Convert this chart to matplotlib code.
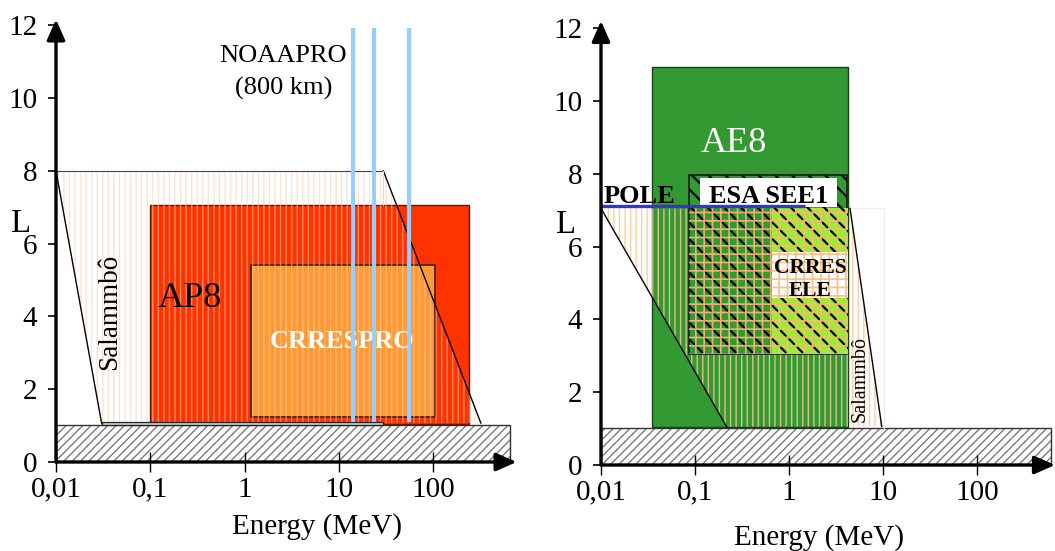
import matplotlib as mpl
mpl.use('Agg')
import numpy as np
import matplotlib.pyplot as plt
from matplotlib.patches import Polygon

plt.rcParams['font.family'] = ['Liberation Serif', 'DejaVu Serif']

# ---------------- data ----------------
tick_E = [0.01, 0.1, 1, 10, 100]
tick_E_labels = ['0,01', '0,1', '1', '10', '100']
tick_L = [0, 2, 4, 6, 8, 10, 12]

# left panel : protons
floor_L = [0.0, 1.02]
floor_E_left = [0.01, 650]
ap8_E = [0.1, 240]
ap8_L = [1.05, 7.05]
crrespro_E = [1.17, 104]
crrespro_L = [1.25, 5.4]
noaapro_E = [14, 23.6, 55.4]
noaapro_L = [1.11, 11.92]
salammbo_p_E = [0.01, 29.6, 320, 0.0305]
salammbo_p_L = [8.0, 8.0, 1.07, 1.06]
salammbo_p_base_L = [1.02, 1.1]

# right panel : electrons
floor_E_right = [0.01, 620]
ae8_E = [0.0346, 4.2]
ae8_L = [1.05, 10.94]
esa_see1_E = [0.0863, 4.15]
esa_see1_L = [3.04, 7.97]
crres_ele_E = [0.0863, 4.2]
crres_ele_L = [3.04, 7.05]
crres_ele_hi_E = [0.655, 4.2]
salammbo_e_E = [0.01, 4.46, 9.7, 0.217]
salammbo_e_L = [7.05, 7.05, 1.06, 1.05]
pole_E = [0.01, 1.48]
pole_L = 7.12

# ---------------- helpers ----------------
W, H = 1055, 551
PXL = 36.4
fig = plt.figure(figsize=(W / 100, H / 100), dpi=100)
fig.patch.set_facecolor('white')


class HatchPolygon(Polygon):
    def __init__(self, xy, hlw=1.0, **kw):
        with mpl.rc_context({'hatch.linewidth': hlw}):
            super().__init__(xy, **kw)
        self._hlw = hlw
        if hasattr(self, 'set_hatch_linewidth'):
            self.set_hatch_linewidth(hlw)

    def draw(self, renderer):
        with mpl.rc_context({'hatch.linewidth': self._hlw}):
            super().draw(renderer)


def corners(E, L):
    return [(E[0], L[0]), (E[1], L[0]), (E[1], L[1]), (E[0], L[1])]


def rect(ax, E, L, fc, ec='none', lw=0.0, z=1.0):
    p = Polygon(corners(E, L), closed=True, facecolor=fc, edgecolor=ec,
                linewidth=lw, zorder=z)
    ax.add_patch(p)
    return p


def hatch(ax, xy, pattern, color, hlw, fc='none', z=1.0):
    p = HatchPolygon(xy, hlw=hlw, closed=True, facecolor=fc, edgecolor=color,
                     linewidth=0, hatch=pattern, zorder=z)
    ax.add_patch(p)
    return p


def outline(ax, xy, color='black', lw=1.0, z=2.0, closed=True):
    p = Polygon(xy, closed=closed, facecolor='none', edgecolor=color,
                linewidth=lw, zorder=z)
    ax.add_patch(p)


def make_axes(x0, y0, decades, Lmax, pxdec, x_end, y_end):
    ax = fig.add_axes([x0 / W, (H - y0) / H, decades * pxdec / W, Lmax * PXL / H])
    ax.set_xscale('log')
    ax.set_xlim(0.01, 0.01 * 10 ** decades)
    ax.set_ylim(0, Lmax)
    ax.set_facecolor('none')
    for s in ax.spines.values():
        s.set_visible(False)
    ax.set_xticks(tick_E)
    ax.set_xticklabels(tick_E_labels)
    ax.minorticks_off()
    ax.set_yticks(tick_L)
    ax.tick_params(axis='x', direction='inout', length=15, width=1.0, pad=3,
                   labelsize=21)
    ax.tick_params(axis='y', direction='out', length=6, width=1.2, pad=7.5,
                   labelsize=21)
    arrow = dict(arrowstyle='-|>,head_length=0.5,head_width=0.22', lw=2.4,
                 color='black', shrinkA=0, shrinkB=0, mutation_scale=25)
    ax.annotate('', xy=(x_end, 0), xytext=(0.01, 0), arrowprops=arrow,
                annotation_clip=False, zorder=5)
    ax.annotate('', xy=(0.01, y_end), xytext=(0.01, 0), arrowprops=arrow,
                annotation_clip=False, zorder=5)
    return ax


# ---------------- left panel ----------------
axL = make_axes(56, 462, 4.95, 12.6, 94.3, 767, 12.16)

hatch(axL, corners(floor_E_left, floor_L), '////', '#7a7a7a', 1.0, fc='white', z=1.0)
outline(axL, corners(floor_E_left, floor_L), color='#333333', lw=1.0, z=1.05)

rect(axL, ap8_E, ap8_L, '#FF3300', ec='#5a1a00', lw=1.0, z=1.1)
rect(axL, crrespro_E, crrespro_L, '#FF9933', ec='#4a2400', lw=1.3, z=1.2)

sal_p = list(zip(salammbo_p_E, salammbo_p_L))
hatch(axL, sal_p, '|||', (1.0, 0.80, 0.68, 0.55), 1.0, z=1.3)
axL.plot([salammbo_p_E[0], salammbo_p_E[3]], [salammbo_p_L[0], salammbo_p_L[3]],
         color='black', lw=1.0, zorder=1.4)
axL.plot([salammbo_p_E[1], salammbo_p_E[2]], [salammbo_p_L[1], salammbo_p_L[2]],
         color='black', lw=1.0, zorder=1.4)
axL.plot([salammbo_p_E[0], salammbo_p_E[1]], [salammbo_p_L[0], salammbo_p_L[1]],
         color='#444444', lw=0.8, zorder=1.4)
axL.plot([salammbo_p_E[1], salammbo_p_E[1]], [salammbo_p_L[1], ap8_L[1]],
         color='#dddddd', lw=0.8, zorder=1.4)
rect(axL, [salammbo_p_E[3], salammbo_p_E[1]], salammbo_p_base_L, '#c8c8c8',
     ec='#222222', lw=0.9, z=1.45)

axL.text(10.7, 3.12, 'CRRESPRO', color='white', fontsize=19, fontweight='bold',
         ha='center', va='baseline', zorder=3)
for e in noaapro_E:
    axL.plot([e, e], noaapro_L, color='#99CCFF', lw=3.0, zorder=3.5,
             solid_capstyle='butt')
axL.text(2.57, 11.0, 'NOAAPRO', fontsize=19, ha='center', va='baseline', zorder=4)
axL.text(2.57, 10.09, '(800 km)', fontsize=19, ha='center', va='baseline', zorder=4)
axL.text(0.264, 4.27, 'AP8', fontsize=26, ha='center', va='baseline', zorder=4)
axL.text(0.0374, 4.13, 'Salammbô', fontsize=19.5, rotation=90, ha='center',
         va='center', zorder=4)
axL.text(10 ** (-2.37), 6.33, 'L', fontsize=23.5, ha='center', va='baseline',
         clip_on=False)
axL.text(5.8, -1.76, 'Energy (MeV)', fontsize=21, ha='center', va='center',
         clip_on=False)

# ---------------- right panel ----------------
axR = make_axes(601, 465, 4.85, 12.6, 94.0, 10 ** 2.83, 12.2)

hatch(axR, corners(floor_E_right, floor_L), '////', '#7a7a7a', 1.0, fc='white', z=1.0)
outline(axR, corners(floor_E_right, floor_L), color='#333333', lw=1.0, z=1.05)

rect(axR, ae8_E, ae8_L, '#339933', ec='#1d3d1d', lw=1.0, z=1.1)

sal_e = list(zip(salammbo_e_E, salammbo_e_L))
hatch(axR, sal_e, '|||', (1.0, 0.78, 0.56, 0.85), 1.0, z=1.2)
axR.plot([salammbo_e_E[0], salammbo_e_E[3]], [salammbo_e_L[0], salammbo_e_L[3]],
         color='black', lw=1.0, zorder=1.3)
axR.plot([salammbo_e_E[1], salammbo_e_E[2]], [salammbo_e_L[1], salammbo_e_L[2]],
         color='black', lw=1.0, zorder=1.3)
axR.plot([salammbo_e_E[1], 10.2, 10.2], [salammbo_e_L[1], salammbo_e_L[1], floor_L[1]],
         color='#ececec', lw=0.8, zorder=1.15)

hatch(axR, corners(esa_see1_E, esa_see1_L), '\\\\', 'black', 1.6, fc='#339933', z=1.4)
outline(axR, corners(esa_see1_E, esa_see1_L), color='#1a1a1a', lw=1.2, z=1.45)
hatch(axR, corners(crres_ele_hi_E, crres_ele_L), '\\\\', 'black', 1.6, fc='#99EE33', z=1.5)
rect(axR, crres_ele_hi_E, [4.58, 5.86], 'white', z=1.55)
hatch(axR, corners(crres_ele_E, crres_ele_L), '++', (1.0, 0.72, 0.45, 0.9), 1.2, z=1.6)

rect(axR, [0.113, 3.21], [7.1, 7.88], 'white', z=1.7)
axR.plot(pole_E, [pole_L, pole_L], color='#3535C8', lw=2.4, zorder=1.8,
         solid_capstyle='butt')

axR.text(0.0254, 7.21, 'POLE', fontsize=19, fontweight='bold', ha='center',
         va='baseline', zorder=4)
axR.text(0.603, 7.19, 'ESA SEE1', fontsize=19, fontweight='bold', ha='center',
         va='baseline', zorder=4)
axR.text(1.67, 5.28, 'CRRES', fontsize=15.5, fontweight='bold', ha='center',
         va='baseline', zorder=4)
axR.text(1.67, 4.64, 'ELE', fontsize=15.5, fontweight='bold', ha='center',
         va='baseline', zorder=4)
axR.text(0.256, 8.61, 'AE8', fontsize=26, color='white', ha='center',
         va='baseline', zorder=4)
axR.text(5.7, 2.36, 'Salammbô', fontsize=14.5, rotation=90, ha='center',
         va='center', zorder=4)
axR.text(10 ** (-2.37), 6.37, 'L', fontsize=23.5, ha='center', va='baseline',
         clip_on=False)
axR.text(2.09, -1.98, 'Energy (MeV)', fontsize=21, ha='center', va='center',
         clip_on=False)

fig.savefig('out.png', dpi=100, facecolor='white')
